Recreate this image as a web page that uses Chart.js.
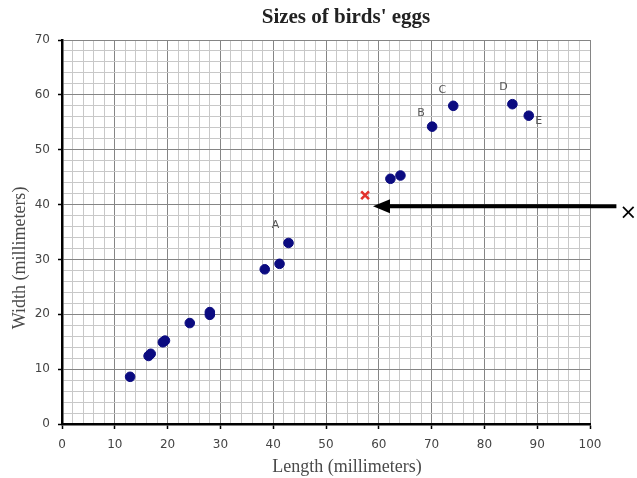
<!DOCTYPE html>
<html>
<head>
<meta charset="utf-8">
<script src="https://cdn.jsdelivr.net/npm/chart.js@4/dist/chart.umd.min.js"></script>
<style>
  html, body { margin: 0; padding: 0; background: #fff; }
</style>
</head>
<body>
<canvas id="eggs" width="637" height="478"></canvas>
<script>
// Egg measurements in millimetres
const eggLength = [12.9, 16.4, 16.8, 19.1, 19.5, 24.2, 28.0, 28.0, 38.4, 41.2, 42.9, 62.2, 64.1, 70.1, 74.1, 85.3, 88.4];
const eggWidth  = [ 8.6, 12.4, 12.8, 14.9, 15.2, 18.4, 19.9, 20.4, 28.2, 29.2, 33.0, 44.7, 45.3, 54.2, 58.0, 58.3, 56.2];

// Lettered eggs (index into the arrays above)
const letterNames = ['A', 'B', 'C', 'D', 'E'];
const letterIndex = [10, 13, 14, 15, 16];

// Egg to be identified (red cross) and the arrow pointing at it
const mysteryEgg = [57.4, 41.7];
const arrowTip = [58.9, 39.7];
const arrowTailLength = 105;

// Labelled axis ticks
const xMajorTicks = [0, 10, 20, 30, 40, 50, 60, 70, 80, 90, 100];
const yMajorTicks = [0, 10, 20, 30, 40, 50, 60, 70];

const isMajor = (list, v) => list.includes(Math.round(v * 1000) / 1000);

const gridColor = list => ctx => (ctx.tick && isMajor(list, ctx.tick.value)) ? '#858585' : '#c8c8c8';
const tickMarkColor = list => ctx => (ctx.tick && isMajor(list, ctx.tick.value)) ? '#000' : 'rgba(0,0,0,0)';

const annotations = {
  id: 'eggAnnotations',
  afterDraw(chart) {
    const ctx = chart.ctx;
    const xs = chart.scales.x, ys = chart.scales.y;
    ctx.save();

    // Titles
    ctx.textAlign = 'center';
    ctx.textBaseline = 'middle';
    ctx.fillStyle = '#222';
    ctx.font = 'bold 21px "Liberation Serif"';
    ctx.fillText("Sizes of birds' eggs", 346, 18);

    ctx.fillStyle = '#4a4a4a';
    ctx.font = '18px "Liberation Serif"';
    ctx.fillText('Length (millimeters)', 347, 467);
    ctx.save();
    ctx.translate(20, 258);
    ctx.rotate(-Math.PI / 2);
    ctx.fillText('Width (millimeters)', 0, 0);
    ctx.restore();

    // Letters beside the named eggs
    const offsets = [[-13, -18], [-11, -14], [-11, -16], [-9, -17], [10, 5]];
    const pts = chart.getDatasetMeta(0).data;
    ctx.font = '11px "DejaVu Sans"';
    ctx.fillStyle = '#555';
    letterNames.forEach((name, i) => {
      const p = pts[letterIndex[i]];
      ctx.fillText(name, p.x + offsets[i][0], p.y + offsets[i][1]);
    });

    // Arrow towards the mystery egg
    const tipX = xs.getPixelForValue(arrowTip[0]);
    const tipY = ys.getPixelForValue(arrowTip[1]);
    const tailX = xs.getPixelForValue(arrowTailLength);
    ctx.strokeStyle = '#000';
    ctx.fillStyle = '#000';
    ctx.lineWidth = 4;
    ctx.beginPath();
    ctx.moveTo(tailX, tipY);
    ctx.lineTo(tipX + 12, tipY);
    ctx.stroke();
    ctx.beginPath();
    ctx.moveTo(tipX, tipY);
    ctx.lineTo(tipX + 17, tipY - 7);
    ctx.lineTo(tipX + 17, tipY + 7);
    ctx.closePath();
    ctx.fill();

    ctx.font = '21px "DejaVu Sans"';
    ctx.fillText('\u00d7', tailX + 12, tipY + 7);
    ctx.restore();
  }
};

new Chart(document.getElementById('eggs'), {
  type: 'scatter',
  data: {
    datasets: [
      {
        label: 'Eggs',
        data: eggLength.map((x, i) => ({ x, y: eggWidth[i] })),
        backgroundColor: '#0b0b80',
        borderColor: '#0b0b80',
        pointRadius: 4.8,
        pointHoverRadius: 4.8
      },
      {
        label: 'Unknown egg',
        data: [{ x: mysteryEgg[0], y: mysteryEgg[1] }],
        pointStyle: 'crossRot',
        borderColor: '#e2332d',
        backgroundColor: '#e2332d',
        borderWidth: 2.6,
        pointRadius: 5.5,
        pointHoverRadius: 5.5
      }
    ]
  },
  options: {
    responsive: false,
    animation: false,
    events: [],
    layout: { padding: { top: 40, right: 47, left: 0, bottom: 0 } },
    plugins: {
      legend: { display: false },
      title: { display: false },
      tooltip: { enabled: false }
    },
    scales: {
      x: {
        type: 'linear',
        min: 0,
        max: 100,
        afterFit(scale) { scale.height = 54; },
        border: { display: true, color: '#000', width: 2.5 },
        grid: {
          color: gridColor(xMajorTicks),
          lineWidth: 1,
          tickColor: tickMarkColor(xMajorTicks),
          tickLength: 5,
          tickWidth: 1.5
        },
        ticks: {
          stepSize: 2,
          autoSkip: false,
          maxRotation: 0,
          padding: 9,
          color: '#444',
          font: { family: '"DejaVu Sans"', size: 12 },
          callback: v => isMajor(xMajorTicks, v) ? String(v) : ''
        }
      },
      y: {
        type: 'linear',
        min: 0,
        max: 70,
        afterFit(scale) { scale.width = 62; },
        border: { display: true, color: '#000', width: 2.5 },
        grid: {
          color: gridColor(yMajorTicks),
          lineWidth: 1,
          tickColor: tickMarkColor(yMajorTicks),
          tickLength: 4,
          tickWidth: 1.5
        },
        ticks: {
          stepSize: 2,
          autoSkip: false,
          padding: 8,
          color: '#444',
          font: { family: '"DejaVu Sans"', size: 12 },
          callback: v => isMajor(yMajorTicks, v) ? String(v) : ''
        }
      }
    }
  },
  plugins: [annotations]
});
</script>
</body>
</html>
